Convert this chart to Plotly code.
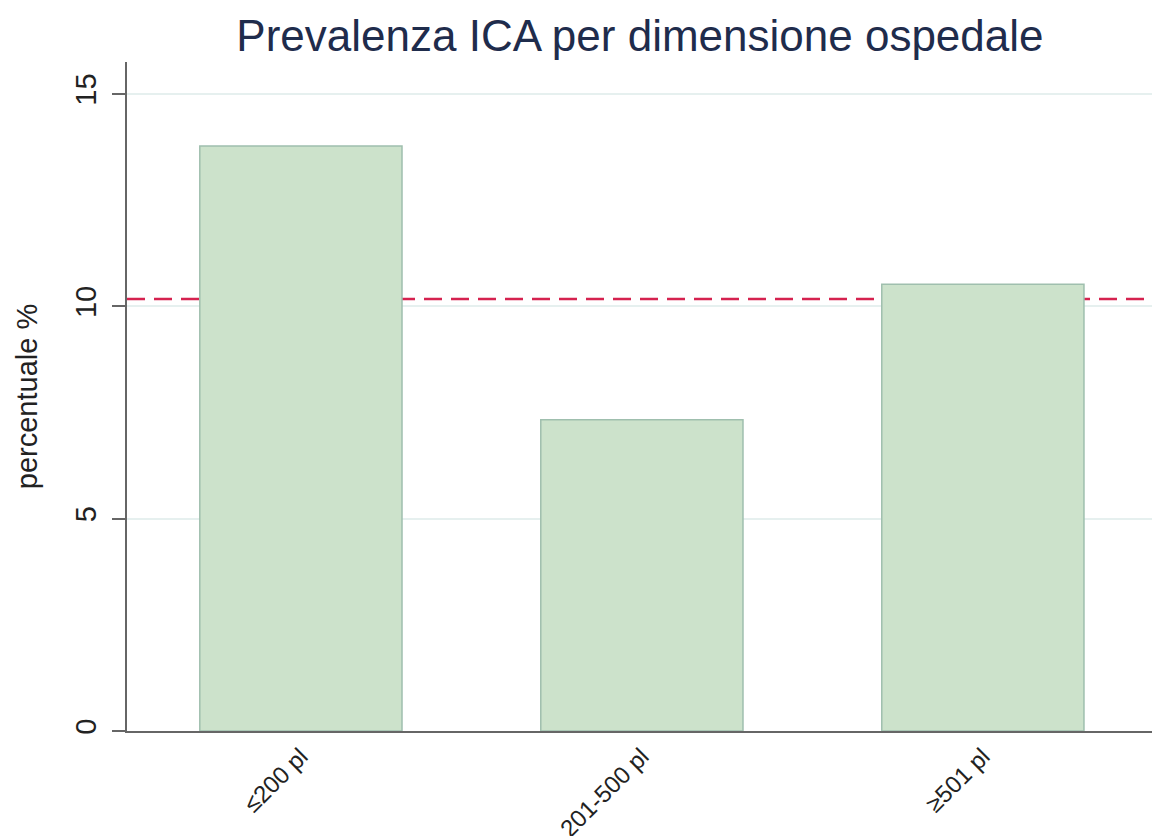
import plotly.graph_objects as go

categories = ["≤200 pl", "201-500 pl", "≥501 pl"]
prevalence = [13.77, 7.33, 10.52]
overall_prevalence = 10.17
y_ticks = [0, 5, 10, 15]

fig = go.Figure()
fig.add_trace(go.Bar(
    x=categories, y=prevalence, width=0.593,
    marker=dict(color="#cce2cb", line=dict(color="#9fbfae", width=1.5)),
    showlegend=False,
))

fig.add_shape(type="line", xref="paper", x0=0, x1=1, yref="y",
              y0=overall_prevalence, y1=overall_prevalence,
              line=dict(color="#d5224f", width=2.5, dash="18px,9px"),
              layer="between")

fig.update_layout(
    width=1152, height=836,
    margin=dict(l=127, r=0, t=62, b=105, autoexpand=False),
    paper_bgcolor="white", plot_bgcolor="white",
    font=dict(family="Arial, Liberation Sans, sans-serif", color="#222"),
    title=dict(text="Prevalenza ICA per dimensione ospedale", x=0.5555, xanchor="center",
               y=0.958, yanchor="middle", font=dict(size=44, color="#1f2c4c")),
    xaxis=dict(range=[-0.51, 2.496], showline=True, linecolor="#666", linewidth=2,
               ticks="", tickangle=-45, tickfont=dict(size=24), showgrid=False,
               automargin=False, ticklabelstandoff=0),
    yaxis=dict(range=[0, 15.75], tickvals=y_ticks, showline=True, linecolor="#666",
               linewidth=2, ticks="outside", ticklen=13, tickwidth=2, tickcolor="#666",
               tickangle=-90, tickfont=dict(size=29), showgrid=True,
               gridcolor="#e6f0ef", gridwidth=1.5, zeroline=False, automargin=False,
               ticklabelstandoff=4,
               title=dict(text="percentuale %", font=dict(size=29), standoff=24)),
)

fig.write_html("out.html", config={"displayModeBar": False},
               post_script="document.body.style.margin='0';document.body.style.overflow='hidden';")
